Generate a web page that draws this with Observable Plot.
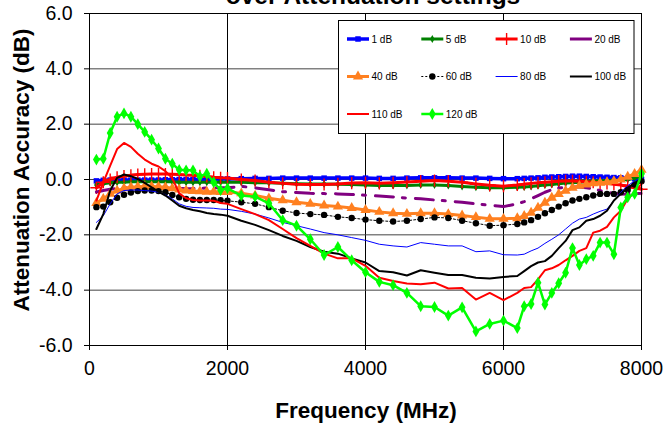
<!DOCTYPE html>
<html><head><meta charset="utf-8">
<script src="https://cdn.jsdelivr.net/npm/d3@7"></script>
<script src="https://cdn.jsdelivr.net/npm/@observablehq/plot@0.6"></script>
<style>
html,body{margin:0;padding:0;background:#fff;}
#chart{position:relative;width:663px;height:429px;overflow:hidden;}
</style></head><body><div id="chart"></div>
<script>
const freq = [100,200,300,400,500,600,700,800,900,1000,1100,1200,1300,1400,1500,1600,1700,1800,1900,2000,
 2200,2400,2600,2800,3000,3200,3400,3600,3800,4000,4200,4400,4600,4800,5000,5200,5400,5600,5800,6000,
 6200,6300,6400,6500,6600,6700,6800,6900,7000,7100,7200,7300,7400,7500,7600,7700,7800,7900,8000];

const att1dB = [-0.05,-0.03,-0.02,-0.02,-0.02,-0.02,-0.02,-0.02,-0.02,-0.02,-0.01,-0.01,0,0,0,0,0.01,0.01,0.02,0.02,
 0.03,0.04,0.04,0.05,0.05,0.05,0.05,0.05,0.05,0.05,0.04,0.04,0.05,0.06,0.06,0.06,0.05,0.05,0.04,0.03,
 0.03,0.04,0.05,0.06,0.08,0.09,0.1,0.11,0.12,0.12,0.11,0.1,0.09,0.08,0.07,0.06,0.05,0.03,0.0];
const att5dB = [-0.2,-0.15,-0.12,-0.1,-0.1,-0.08,-0.08,-0.08,-0.08,-0.08,-0.08,-0.08,-0.1,-0.1,-0.1,-0.1,-0.1,-0.1,-0.1,-0.1,
 -0.1,-0.12,-0.12,-0.14,-0.15,-0.16,-0.16,-0.17,-0.18,-0.2,-0.22,-0.22,-0.22,-0.2,-0.2,-0.22,-0.25,-0.28,-0.3,-0.3,
 -0.28,-0.27,-0.25,-0.23,-0.2,-0.18,-0.15,-0.13,-0.12,-0.1,-0.08,-0.06,-0.05,-0.04,-0.03,-0.02,0.0,0.05,0.12];
const att10dB = [-0.3,-0.1,0.0,0.08,0.12,0.15,0.18,0.19,0.2,0.2,0.2,0.19,0.18,0.16,0.15,0.13,0.11,0.08,0.06,0.05,
 0.0,-0.04,-0.1,-0.14,-0.17,-0.18,-0.18,-0.16,-0.13,-0.12,-0.14,-0.12,-0.09,-0.06,-0.04,-0.06,-0.1,-0.16,-0.21,-0.24,
 -0.2,-0.17,-0.14,-0.12,-0.1,-0.08,-0.06,-0.05,-0.05,-0.06,-0.08,-0.1,-0.12,-0.14,-0.17,-0.2,-0.25,-0.3,-0.35];
const att20dB = [-0.45,-0.4,-0.35,-0.32,-0.3,-0.28,-0.28,-0.28,-0.28,-0.28,-0.28,-0.3,-0.32,-0.33,-0.33,-0.32,-0.31,-0.3,-0.3,-0.3,
 -0.25,-0.3,-0.37,-0.44,-0.47,-0.5,-0.51,-0.52,-0.54,-0.57,-0.6,-0.63,-0.67,-0.7,-0.74,-0.78,-0.82,-0.88,-0.93,-0.98,
 -0.88,-0.8,-0.7,-0.58,-0.46,-0.37,-0.31,-0.28,-0.27,-0.27,-0.3,-0.34,-0.4,-0.46,-0.5,-0.52,-0.53,-0.52,-0.5];
const att40dB = [-0.85,-0.7,-0.52,-0.4,-0.32,-0.28,-0.26,-0.25,-0.25,-0.26,-0.28,-0.32,-0.36,-0.4,-0.42,-0.43,-0.44,-0.44,-0.45,-0.45,
 -0.5,-0.58,-0.68,-0.75,-0.82,-0.88,-0.94,-0.98,-1.03,-1.1,-1.17,-1.22,-1.24,-1.22,-1.22,-1.25,-1.3,-1.36,-1.42,-1.42,
 -1.4,-1.32,-1.2,-1.02,-0.84,-0.66,-0.53,-0.41,-0.3,-0.23,-0.18,-0.14,-0.12,-0.1,-0.06,0.0,0.1,0.2,0.35];
const att60dB = [-1.0,-0.98,-0.82,-0.66,-0.55,-0.47,-0.42,-0.4,-0.4,-0.42,-0.46,-0.56,-0.64,-0.7,-0.73,-0.74,-0.74,-0.74,-0.75,-0.77,
 -0.82,-0.88,-1.0,-1.13,-1.21,-1.25,-1.28,-1.35,-1.39,-1.45,-1.49,-1.52,-1.49,-1.43,-1.37,-1.39,-1.49,-1.58,-1.67,-1.65,
 -1.61,-1.55,-1.47,-1.35,-1.22,-1.1,-0.98,-0.86,-0.76,-0.7,-0.64,-0.58,-0.52,-0.52,-0.52,-0.46,-0.38,-0.18,-0.06];
const att80dB = [-1.55,-1.31,-0.88,-0.52,-0.4,-0.38,-0.38,-0.4,-0.42,-0.46,-0.55,-0.7,-0.88,-0.97,-1.01,-1.02,-1.03,-1.04,-1.07,-1.08,
 -1.15,-1.25,-1.39,-1.55,-1.67,-1.79,-1.92,-2.0,-2.1,-2.2,-2.34,-2.4,-2.44,-2.28,-2.34,-2.4,-2.4,-2.61,-2.58,-2.72,
 -2.73,-2.7,-2.58,-2.48,-2.31,-2.16,-2.0,-1.79,-1.58,-1.43,-1.37,-1.25,-1.15,-1.07,-0.76,-0.46,-0.22,-0.06,0.08];
const att100dB = [-1.79,-1.25,-0.4,0.06,0.18,0.12,0.02,-0.12,-0.28,-0.44,-0.58,-0.76,-0.95,-1.04,-1.1,-1.15,-1.21,-1.25,-1.27,-1.31,
 -1.49,-1.64,-1.83,-2.04,-2.22,-2.44,-2.61,-2.68,-2.85,-3.0,-3.31,-3.35,-3.47,-3.28,-3.37,-3.45,-3.45,-3.55,-3.58,-3.52,
 -3.49,-3.31,-3.13,-3.0,-2.95,-2.76,-2.48,-2.22,-1.83,-1.73,-1.49,-1.43,-1.31,-1.13,-0.76,-0.52,-0.3,-0.13,0.02];
const att110dB = [-0.76,-0.1,0.5,1.1,1.32,1.18,0.93,0.72,0.57,0.47,0.3,0.05,-0.5,-0.68,-0.74,-0.76,-0.76,-0.77,-0.85,-0.88,
 -1.07,-1.25,-1.47,-1.79,-2.12,-2.4,-2.68,-2.85,-2.85,-3.12,-3.55,-3.67,-3.76,-3.79,-3.73,-3.94,-3.92,-4.34,-4.1,-4.36,
 -4.1,-3.92,-3.89,-3.61,-3.28,-3.21,-3.09,-2.92,-2.76,-2.58,-2.48,-1.92,-1.85,-1.71,-1.37,-1.13,-0.7,-0.46,-0.16];
const att120dB = [0.72,0.75,1.68,2.27,2.39,2.27,2.0,1.72,1.44,1.12,0.75,0.57,0.35,0.33,0.33,0.11,0.21,-0.1,-0.38,-0.32,
 -0.58,-0.62,-0.86,-1.47,-1.67,-2.16,-2.73,-2.44,-2.92,-3.35,-3.7,-3.82,-4.1,-4.58,-4.61,-4.92,-4.62,-5.49,-5.22,-5.1,
 -5.37,-4.58,-4.5,-3.73,-4.52,-4.1,-3.75,-3.37,-2.48,-3.09,-2.88,-2.76,-2.28,-2.28,-2.7,-1.01,-0.64,-0.52,0.21];

const seriesNames = ["1 dB","5 dB","10 dB","20 dB","40 dB","60 dB","80 dB","100 dB","110 dB","120 dB"];
const seriesValues = [att1dB,att5dB,att10dB,att20dB,att40dB,att60dB,att80dB,att100dB,att110dB,att120dB];
const xTicks = [0,2000,4000,6000,8000];
const yTicks = [-6,-4,-2,0,2,4,6];
const titleText = "over Attenuation settings";
const xLabel = "Frequency (MHz)";
const yLabel = "Attenuation Accuracy (dB)";

// styles per series
const styles = [
  {color:"#0000ff", w:3.5, symbol:"square", r:3.1, fill:true},
  {color:"#008000", w:3, symbol:"diamond", r:2.4, fill:true},
  {color:"#ff0000", w:3, symbol:"plus", r:4, fill:false},
  {color:"#800080", w:3, dash:"18,9,3,10"},
  {color:"#ff8020", w:3, symbol:"triangle", r:3.8, fill:true},
  {color:"#000000", w:1, dash:"2,2", symbol:"circle", r:3.2, fill:true},
  {color:"#0000ff", w:1},
  {color:"#000000", w:2},
  {color:"#ff0000", w:2},
  {color:"#00ff00", w:2.5, symbol:"diamond", r:3.6, fill:true}
];

const series = seriesNames.map((name,i)=>({name, ...styles[i],
  data: freq.map((f,j)=>({f, v: seriesValues[i][j]}))}));

const marks = [
  Plot.gridX({ticks:[2000,4000,6000], stroke:"#000", strokeOpacity:1, strokeWidth:1}),
  Plot.gridY({ticks:[-4,-2,0,2,4], stroke:"#444", strokeOpacity:1, strokeWidth:1}),
];
for (const s of series) {
  marks.push(Plot.line(s.data, {x:"f", y:"v", stroke:s.color, strokeWidth:s.w, strokeDasharray:s.dash, strokeLinejoin:"round"}));
  if (s.symbol) {
    if (s.fill) marks.push(Plot.dot(s.data, {x:"f", y:"v", symbol:s.symbol, r:s.r, fill:s.color, stroke:"none"}));
    else marks.push(Plot.dot(s.data, {x:"f", y:"v", symbol:s.symbol, r:s.r, fill:"none", stroke:s.color, strokeWidth:1.4}));
  }
}
marks.push(Plot.frame({stroke:"#000", strokeWidth:1}));
marks.push(Plot.axisX({ticks:xTicks, tickSize:5, tickPadding:11, label:null, tickFormat:d=>String(d)}));
marks.push(Plot.axisY({ticks:yTicks, tickSize:5, tickPadding:12, label:null, tickFormat:d=>d.toFixed(1)}));

const svgNode = Plot.plot({
  width:663, height:429,
  marginLeft:89, marginRight:22, marginTop:13, marginBottom:84,
  x:{domain:[0,8000]},
  y:{domain:[-6,6]},
  style:{fontFamily:"'Liberation Sans', Arial, sans-serif", fontSize:"19.5px", background:"#fff", color:"#000", overflow:"visible"},
  marks
});
document.getElementById("chart").appendChild(svgNode);

const svg = d3.select(svgNode);
const font = "'Liberation Sans', Arial, sans-serif";
svg.append("text").attr("x",373).attr("y",4).attr("text-anchor","middle")
  .attr("font-family",font).attr("font-weight","bold").attr("font-size",24.5).attr("fill","#000").text(titleText);
svg.append("text").attr("x",366).attr("y",418).attr("text-anchor","middle")
  .attr("font-family",font).attr("font-weight","bold").attr("font-size",22.5).attr("fill","#000").text(xLabel);
svg.append("text").attr("transform","translate(28.5,170) rotate(-90)").attr("text-anchor","middle")
  .attr("font-family",font).attr("font-weight","bold").attr("font-size",22.5).attr("fill","#000").text(yLabel);

// legend
const lg = svg.append("g").attr("text-anchor","start");
lg.append("rect").attr("x",338.5).attr("y",20.5).attr("width",295.5).attr("height",113)
  .attr("fill","#fff").attr("stroke","#000").attr("stroke-width",1);
const symMap = {square:d3.symbolSquare, diamond:d3.symbolDiamond, triangle:d3.symbolTriangle, circle:d3.symbolCircle, plus:d3.symbolPlus};
series.forEach((s,i)=>{
  const col = i % 4, row = Math.floor(i/4);
  const x0 = 347 + col*74.3, y0 = 39 + row*37.5;
  lg.append("line").attr("x1",x0).attr("x2",x0+22).attr("y1",y0).attr("y2",y0)
    .attr("stroke",s.color).attr("stroke-width",s.w).attr("stroke-dasharray", s.dash && s.dash.startsWith("2") ? s.dash : null);
  if (s.symbol) {
    const p = d3.symbol().type(symMap[s.symbol]).size(Math.PI*s.r*s.r)();
    lg.append("path").attr("d",p).attr("transform",`translate(${x0+11},${y0})`)
      .attr("fill", s.fill ? s.color : "none").attr("stroke", s.fill ? "none" : s.color).attr("stroke-width",1.4);
  }
  lg.append("text").attr("x",x0+24.5).attr("y",y0+3.6).attr("text-anchor","start").attr("font-family",font).attr("font-size",10)
    .attr("fill","#000").text(s.name);
});
</script></body></html>
